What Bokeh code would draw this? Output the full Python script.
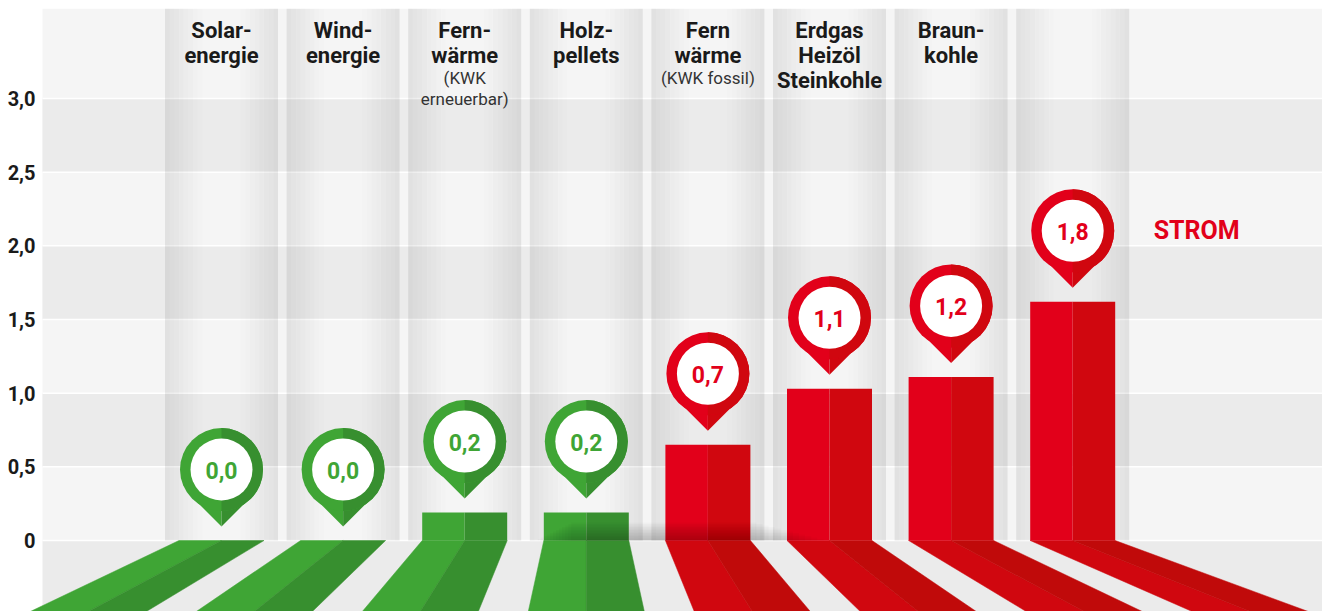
import numpy as np
from bokeh.plotting import figure
from bokeh.models import Range1d, FixedTicker, CustomJSTickFormatter
from bokeh.core.properties import value
from bokeh.embed import file_html
from bokeh.resources import INLINE

# ---------------- data ----------------
categories = ["Solarenergie", "Windenergie", "Fernwärme (KWK erneuerbar)", "Holzpellets",
              "Fernwärme (KWK fossil)", "Erdgas Heizöl Steinkohle", "Braunkohle", "Strom"]
heading = ["Solar-\nenergie", "Wind-\nenergie", "Fern-\nwärme", "Holz-\npellets",
           "Fern\nwärme", "Erdgas\nHeizöl\nSteinkohle", "Braun-\nkohle", ""]
note = ["", "", "(KWK\nerneuerbar)", "", "(KWK fossil)", "", "", ""]
bar_values = [0.0, 0.0, 0.19, 0.19, 0.65, 1.03, 1.11, 1.62]
pin_labels = ["0,0", "0,0", "0,2", "0,2", "0,7", "1,1", "1,2", "1,8"]
groups = ["erneuerbar"] * 4 + ["fossil"] * 4
side_label = "STROM"
y_ticks = [0, 0.5, 1.0, 1.5, 2.0, 2.5, 3.0]

# ---------------- style ----------------
COL = {
    "erneuerbar": dict(light="#3fa535", dark="#378f2f", floor_l="#3fa535", floor_r="#378f2f"),
    "fossil": dict(light="#e2001a", dark="#d0070f", floor_l="#d0070f", floor_r="#c00a0a"),
}
FONT = "Roboto"
W, H = 1322, 611
LEFT, TOP = 12, 8
FW, FH = W - LEFT, H - TOP
KX = 121.6          # px per category
KY = 147.33         # px per value unit
X0 = -(221 - LEFT) / KX
X1 = X0 + FW / KX
PL = -179 / KX      # left edge of the grey panel
Y1 = 532 / KY
Y0 = Y1 - FH / KY
BW = 85 / KX        # bar width
CW = 113 / KX       # column strip width
VC = 3.0            # perspective centre (category index)
PERSP = 0.365 / (71 / KY)

n = len(categories)
xs = np.arange(n, dtype=float)

p = figure(width=W, height=H, x_range=Range1d(X0, X1), y_range=Range1d(Y0, Y1),
           output_backend="svg", toolbar_location=None, x_axis_location=None,
           min_border_left=LEFT, min_border_right=0, min_border_top=TOP, min_border_bottom=0,
           background_fill_color="white", border_fill_color="white", outline_line_color=None)
p.xgrid.visible = False
p.ygrid.visible = False

ax = p.yaxis[0]
ax.ticker = FixedTicker(ticks=y_ticks)
ax.formatter = CustomJSTickFormatter(code="return tick == 0 ? '0' : tick.toFixed(1).replace('.', ',');")
ax.axis_line_color = None
ax.major_tick_line_color = None
ax.minor_tick_line_color = None
ax.major_tick_out = 0
ax.major_tick_in = 0
ax.major_label_standoff = -23
ax.major_label_text_font = FONT
ax.major_label_text_font_style = "bold"
ax.major_label_text_font_size = "20px"
ax.major_label_text_color = "#1a1a1a"

# panel + horizontal bands
p.quad(left=PL, right=X1, bottom=0, top=Y1, fill_color="#f5f5f5", line_color=None)
bb = [y_ticks[k] for k in range(len(y_ticks) - 1) if k % 2 == 1]
bt = [y_ticks[k + 1] for k in range(len(y_ticks) - 1) if k % 2 == 1]
p.quad(left=PL, right=X1, bottom=bb, top=bt, fill_color="#ebebeb", line_color=None)
p.quad(left=PL, right=X1, bottom=Y0, top=0, fill_color="#ebebeb", line_color=None)
p.segment(x0=PL, x1=X1, y0=y_ticks, y1=y_ticks, line_color="white", line_width=1.5)

# column strips with soft gradient edges
NS = 24
cl, cr, ca = [], [], []
for i in xs:
    edges = np.linspace(i - CW / 2, i + CW / 2, NS + 1)
    for j in range(NS):
        t = ((edges[j] + edges[j + 1]) / 2 - i) / (CW / 2)
        a = 0.085 * np.clip((abs(t) - 0.3) / 0.7, 0, 1) ** 1.1
        cl.append(edges[j]); cr.append(edges[j + 1]); ca.append(a)
p.quad(left=cl, right=cr, bottom=0, top=Y1, fill_color="black", fill_alpha=ca, line_color=None)

# floor shadows (perspective)
fb = 1 + PERSP * (-Y0)
def proj(x):
    return VC + (x - VC) * fb
fl_x, fl_y, fl_c = [], [], []
for i, g in zip(xs, groups):
    a, m, b = i - BW / 2, i, i + BW / 2
    fl_x.append([a, m, proj(m), proj(a)]); fl_y.append([0, 0, Y0, Y0]); fl_c.append(COL[g]["floor_l"])
    fl_x.append([m, b, proj(b), proj(m)]); fl_y.append([0, 0, Y0, Y0]); fl_c.append(COL[g]["floor_r"])
p.patches(xs=fl_x, ys=fl_y, fill_color=fl_c, line_color=fl_c, line_width=0.5)

# bars (two-tone)
vals = np.array(bar_values)
lc = [COL[g]["light"] for g in groups]
dc = [COL[g]["dark"] for g in groups]
p.quad(left=xs - BW / 2, right=xs, bottom=0, top=vals, fill_color=lc, line_color=None)
p.quad(left=xs, right=xs + BW / 2, bottom=0, top=vals, fill_color=dc, line_color=None)

# soft dark shadow at the base (middle of the chart)
for k in range(12):
    h = (k + 1) * 1.5 / KY
    shrink = k * 0.025
    p.quad(left=2.6 + shrink, right=4.95 - shrink * 2, bottom=0, top=h,
           fill_color="black", fill_alpha=0.02, line_color=None)

# pins
yc = vals + 71 / KY
R = 41.5
tri_l_x, tri_l_y, tri_r_x, tri_r_y = [], [], [], []
for i, c in zip(xs, yc):
    yb = c - 24 / KY
    yt = c - 57 / KY
    tri_l_x.append([i - 33 / KX, i, i]); tri_l_y.append([yb, yb, yt])
    tri_r_x.append([i, i + 33 / KX, i]); tri_r_y.append([yb, yb, yt])
p.patches(xs=tri_l_x, ys=tri_l_y, fill_color=lc, line_color=None)
p.patches(xs=tri_r_x, ys=tri_r_y, fill_color=dc, line_color=None)
p.scatter(x=xs, y=yc, size=2 * R, marker="circle", fill_color=lc, line_color=None)
p.wedge(x=xs, y=yc, radius=R, radius_units="screen", start_angle=-np.pi / 2, end_angle=np.pi / 2,
        direction="anticlock", fill_color=dc, line_color=None)
p.scatter(x=xs, y=yc, size=62, marker="circle", fill_color="white", line_color=None)
p.text(x=xs, y=yc, text=pin_labels, text_align="center", text_baseline="middle", y_offset=1,
       text_font=value(FONT), text_font_style="bold", text_font_size="23px", text_color=lc)

# category headings
hx, hy, ht, ho = [], [], [], []
for i, lab in zip(xs, heading):
    if not lab:
        continue
    for k, line in enumerate(lab.split("\n")):
        hx.append(i); hy.append(Y1); ht.append(line); ho.append(22 + 25 * k)
p.text(x=hx, y=hy, text=ht, y_offset=ho, text_align="center", text_baseline="alphabetic",
       text_font=value(FONT), text_font_style="bold", text_font_size="22px", text_color="#1a1a1a")
nx, ny, nt, no = [], [], [], []
for i, lab in zip(xs, note):
    if not lab:
        continue
    for k, line in enumerate(lab.split("\n")):
        nx.append(i); ny.append(Y1); nt.append(line); no.append(69 + 21 * k)
p.text(x=nx, y=ny, text=nt, y_offset=no, text_align="center", text_baseline="alphabetic",
       text_font=value(FONT), text_font_size="17px", text_color="#333333")

# STROM label next to the last pin
p.text(x=[xs[-1]], y=[yc[-1]], text=[side_label], x_offset=81, text_align="left",
       text_baseline="middle", text_font=value(FONT), text_font_style="bold",
       text_font_size="25px", text_color=COL["fossil"]["light"])

open("out.html", "w").write(file_html(p, INLINE))
